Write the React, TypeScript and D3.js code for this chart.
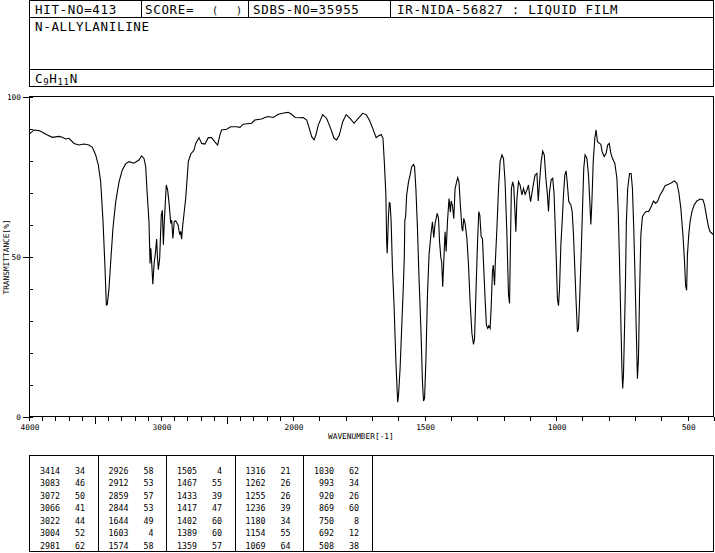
import * as d3 from "d3";

const wavenumbers = [
  4000, 3962, 3924, 3899, 3861, 3823, 3773, 3747, 3722, 3697, 3659, 3621, 3583, 3545, 3520, 3495, 3475, 3457,
  3439, 3424, 3414, 3407, 3394, 3381, 3364, 3343, 3318, 3293, 3268, 3242, 3205, 3167, 3147, 3129, 3116, 3104,
  3091, 3083, 3077, 3071, 3062, 3052, 3041, 3033, 3027, 3020, 3010, 2998, 2990, 2982, 2975, 2960, 2950, 2940,
  2926, 2919, 2910, 2900, 2889, 2871, 2858, 2851, 2844, 2835, 2813, 2793, 2775, 2750, 2737, 2712, 2692, 2667,
  2642, 2617, 2592, 2571, 2554, 2541, 2503, 2472, 2427, 2402, 2377, 2314, 2289, 2238, 2213, 2188, 2150, 2112,
  2061, 2036, 2011, 1992, 1973, 1961, 1948, 1938, 1929, 1920, 1913, 1904, 1887, 1872, 1857, 1844, 1834, 1824,
  1811, 1798, 1783, 1768, 1752, 1735, 1722, 1710, 1697, 1684, 1676, 1665, 1658, 1653, 1647, 1644, 1642, 1637,
  1634, 1631, 1627, 1622, 1616, 1609, 1604, 1602, 1599, 1593, 1587, 1580, 1577, 1575, 1572, 1568, 1561, 1555,
  1549, 1542, 1538, 1533, 1527, 1521, 1514, 1508, 1504, 1500, 1495, 1489, 1483, 1476, 1470, 1465, 1460, 1452,
  1447, 1443, 1438, 1435, 1431, 1426, 1422, 1418, 1413, 1407, 1402, 1399, 1394, 1389, 1384, 1378, 1374, 1369,
  1364, 1358, 1355, 1351, 1346, 1339, 1333, 1327, 1320, 1314, 1310, 1305, 1299, 1294, 1290, 1285, 1280, 1275,
  1270, 1265, 1260, 1256, 1251, 1247, 1242, 1239, 1234, 1231, 1225, 1219, 1213, 1206, 1200, 1194, 1187, 1181,
  1177, 1173, 1170, 1165, 1161, 1157, 1153, 1149, 1143, 1137, 1130, 1124, 1118, 1111, 1105, 1101, 1097, 1092,
  1085, 1080, 1073, 1068, 1063, 1057, 1051, 1045, 1039, 1033, 1029, 1025, 1019, 1013, 1008, 1004, 1000, 995,
  991, 987, 982, 977, 972, 967, 962, 957, 952, 944, 939, 934, 929, 924, 919, 915, 910, 905, 900, 895, 890, 883,
  877, 872, 868, 864, 859, 853, 848, 843, 835, 830, 825, 817, 810, 804, 798, 792, 785, 777, 769, 764, 759, 754,
  750, 747, 744, 740, 736, 733, 728, 721, 715, 710, 705, 700, 695, 691, 687, 683, 678, 672, 665, 658, 648, 639,
  630, 622, 615, 605, 594, 586, 573, 560, 551, 541, 534, 526, 518, 512, 508, 504, 501, 496, 491, 484, 475, 465,
  452, 442, 436, 427, 421, 415, 404, 400,
];

const transmittance = [
  88.3, 89.7, 89.5, 89.0, 88.1, 87.4, 87.7, 87.4, 86.9, 87.1, 85.5, 85.0, 85.3, 85.0, 84.3, 81.9, 78.8, 73.5,
  61.0, 46.4, 35.0, 35.2, 40.2, 48.5, 59.0, 67.3, 73.5, 77.2, 79.1, 79.8, 79.3, 80.3, 81.6, 80.8, 78.2, 69.4,
  61.0, 48.0, 52.7, 48.5, 41.5, 48.0, 51.7, 55.6, 50.0, 46.0, 49.6, 63.0, 64.6, 53.8, 61.0, 72.5, 71.0, 67.3,
  60.5, 61.5, 55.8, 61.0, 61.3, 60.0, 57.0, 58.0, 55.6, 60.0, 68.3, 79.8, 82.1, 83.4, 85.5, 87.3, 85.5, 85.3,
  87.3, 87.3, 86.0, 85.0, 88.1, 89.7, 89.9, 90.7, 90.7, 90.5, 91.5, 91.8, 92.8, 93.1, 93.6, 93.9, 93.6, 94.6,
  95.1, 95.2, 94.6, 93.6, 93.5, 93.6, 92.8, 90.2, 87.6, 86.6, 88.1, 91.2, 94.5, 93.3, 90.2, 87.1, 86.6, 88.1,
  92.3, 94.5, 93.3, 91.8, 93.3, 94.9, 94.5, 92.8, 90.2, 87.3, 87.8, 88.3, 87.1, 79.8, 69.4, 54.8, 51.2, 63.1,
  67.0, 66.8, 61.0, 46.4, 35.0, 17.3, 7.9, 4.6, 6.9, 15.2, 27.7, 42.3, 50.0, 61.5, 62.5, 69.4, 73.5, 75.6,
  78.2, 78.9, 78.2, 71.4, 59.0, 43.3, 27.7, 11.0, 5.0, 5.8, 17.3, 38.1, 50.6, 56.9, 61.0, 56.0, 60.5, 63.6,
  62.1, 54.8, 49.6, 48.5, 40.7, 50.6, 57.9, 51.7, 61.0, 68.3, 64.0, 67.5, 66.0, 62.0, 71.4, 73.5, 74.8, 73.3,
  66.3, 59.0, 58.1, 62.1, 60.5, 55.8, 47.5, 36.0, 26.1, 22.7, 24.5, 38.1, 53.8, 64.2, 63.1, 56.4, 55.8, 46.4,
  37.0, 28.8, 27.7, 28.5, 27.7, 34.0, 45.4, 47.5, 41.2, 48.5, 59.0, 71.4, 79.8, 81.9, 80.8, 73.5, 56.9, 38.1,
  35.5, 56.9, 71.4, 73.5, 72.0, 65.2, 57.9, 68.3, 73.5, 72.5, 69.4, 71.4, 69.6, 70.9, 72.5, 69.4, 67.3, 69.9,
  73.5, 75.6, 76.1, 67.5, 73.5, 79.8, 83.1, 81.9, 74.6, 69.4, 64.2, 70.4, 74.1, 74.6, 70.0, 61.0, 50.6, 37.0,
  34.8, 40.2, 53.8, 61.0, 69.4, 75.6, 76.9, 72.5, 67.3, 66.3, 64.2, 56.9, 46.4, 36.0, 26.6, 27.7, 38.1, 50.6,
  64.2, 77.7, 81.9, 80.8, 75.6, 67.3, 60.2, 67.3, 79.8, 87.1, 89.7, 86.0, 85.5, 85.2, 82.9, 81.4, 82.4, 85.0,
  85.5, 82.4, 80.6, 79.3, 74.6, 64.2, 48.5, 29.8, 15.2, 8.9, 13.1, 27.7, 44.3, 61.0, 71.4, 76.1, 76.1, 71.4,
  59.0, 43.3, 25.6, 12.0, 18.3, 38.1, 56.9, 62.6, 63.6, 64.2, 64.2, 65.7, 67.5, 66.8, 67.3, 69.4, 70.9, 72.3,
  72.7, 73.3, 73.8, 73.0, 70.4, 65.2, 56.9, 48.5, 41.2, 39.6, 50.6, 56.9, 61.0, 64.2, 66.3, 67.5, 68.1, 67.9,
  66.3, 62.1, 59.5, 57.9, 57.1, 56.9,
];

// peak table, 5 columns of 7 rows
const peakWavenumbers = [
  3414, 3083, 3072, 3066, 3022, 3004, 2981,
  2926, 2912, 2859, 2844, 1644, 1603, 1574,
  1505, 1467, 1433, 1417, 1402, 1389, 1359,
  1316, 1262, 1255, 1236, 1180, 1154, 1069,
  1030, 993, 920, 869, 750, 692, 508,
];
const peakValues = [
  34, 46, 50, 41, 44, 52, 62,
  58, 53, 57, 53, 49, 4, 58,
  4, 55, 39, 47, 60, 60, 57,
  21, 26, 26, 39, 34, 55, 64,
  62, 34, 26, 60, 8, 12, 38,
];

const xTickLabels = [4000, 3000, 2000, 1500, 1000, 500];
const yTickLabels = [100, 50, 0];

const W = 715;
const H = 553;
const left = 29;
const right = 714;
const mono = "DejaVu Sans Mono, monospace";

export default function App() {
  const x = d3.scaleLinear().domain([4000, 2000, 400]).range([left, 293, right]);
  const y = d3.scaleLinear().domain([0, 100]).range([417, 97]);

  const line = d3
    .line<number>()
    .x((d, i) => x(wavenumbers[i]))
    .y((d) => y(d));

  const minorX = d3.range(4000, 399, -100);
  const minorY = d3.range(0, 101, 10);

  const colW = (right - left) / 10;
  const rowY = (i: number) => 473.5 + i * 12.5;

  return (
    <div>
      <style>{`body{margin:0}`}</style>
      <svg width={W} height={H} style={{ display: "block", background: "#fff" }}>
        {/* header box */}
        <g stroke="#000" strokeWidth={1} fill="none" shapeRendering="crispEdges">
          <rect x={left + 0.5} y={0.5} width={right - left - 1} height={86} />
          <line x1={left} x2={right} y1={17.5} y2={17.5} />
          <line x1={left} x2={right} y1={69.5} y2={69.5} />
          <line x1={141.5} x2={141.5} y1={0} y2={17} />
          <line x1={248.5} x2={248.5} y1={0} y2={17} />
          <line x1={390.5} x2={390.5} y1={0} y2={17} />
        </g>
        <g fontFamily={mono} fontSize={12.5} letterSpacing={0.67} fill="#000">
          <text x={35} y={14}>HIT-NO=413</text>
          <text x={145} y={14}>SCORE=</text>
          <text x={212} y={14} fontSize={10}>(</text>
          <text x={236} y={14} fontSize={10}>)</text>
          <text x={253} y={14}>SDBS-NO=35955</text>
          <text x={397} y={14}>IR-NIDA-56827 : LIQUID FILM</text>
          <text x={35} y={31}>N-ALLYLANILINE</text>
          <text x={35} y={83}>
            C<tspan fontSize={9} dy={2}>9</tspan>
            <tspan dy={-2}>H</tspan>
            <tspan fontSize={9} dy={2}>11</tspan>
            <tspan dy={-2}>N</tspan>
          </text>
        </g>

        {/* plot frame */}
        <g stroke="#000" strokeWidth={1} fill="none" shapeRendering="crispEdges">
          <line x1={left} x2={right} y1={96.5} y2={96.5} />
          <line x1={right - 0.5} x2={right - 0.5} y1={96} y2={417} />
          <line x1={left + 0.5} x2={left + 0.5} y1={96} y2={417} />
          <line x1={left} x2={right} y1={416.5} y2={416.5} />
          {minorX.map((t) => (
            <line
              key={"xt" + t}
              x1={Math.round(x(t)) + 0.5}
              x2={Math.round(x(t)) + 0.5}
              y1={417}
              y2={t === 3500 || t === 2500 ? 424 : 421}
            />
          ))}
          {minorY.map((t) => (
            <line key={"yt" + t} x1={left} x2={left + 4} y1={Math.round(y(t)) + 0.5} y2={Math.round(y(t)) + 0.5} />
          ))}
          {yTickLabels.map((t) => (
            <line key={"yl" + t} x1={left - 6} x2={left} y1={Math.round(y(t)) + 0.5} y2={Math.round(y(t)) + 0.5} />
          ))}
        </g>
        <g fontFamily={mono} fontSize={7.8} fill="#000">
          {xTickLabels.map((t) => (
            <text key={"xl" + t} x={x(t) + 1} y={430} textAnchor="middle">
              {t}
            </text>
          ))}
          {yTickLabels.map((t) => (
            <text key={"ylt" + t} x={21} y={y(t) + 3} textAnchor="end">
              {t}
            </text>
          ))}
          <text x={328} y={439}>WAVENUMBER[-1]</text>
          <text transform="translate(9,257) rotate(-90)" textAnchor="middle">
            TRANSMITTANCE[%]
          </text>
        </g>

        <path d={line(transmittance) ?? ""} fill="none" stroke="#000" strokeWidth={1.1} />

        {/* peak table */}
        <g stroke="#000" strokeWidth={1} fill="none" shapeRendering="crispEdges">
          <rect x={left + 0.5} y={455.5} width={right - left - 1} height={96} />
          {d3.range(1, 6).map((c) => (
            <line key={"c" + c} x1={Math.round(left + c * colW) + 0.5} x2={Math.round(left + c * colW) + 0.5} y1={455} y2={552} />
          ))}
        </g>
        <g fontFamily={mono} fontSize={8.3} fill="#000" textAnchor="end">
          {peakWavenumbers.map((wn, i) => {
            const c = Math.floor(i / 7);
            const r = i % 7;
            const cx = left + c * colW;
            return (
              <g key={"p" + i}>
                <text x={cx + 31} y={rowY(r)}>{wn}</text>
                <text x={cx + 56} y={rowY(r)}>{peakValues[i]}</text>
              </g>
            );
          })}
        </g>
      </svg>
    </div>
  );
}
